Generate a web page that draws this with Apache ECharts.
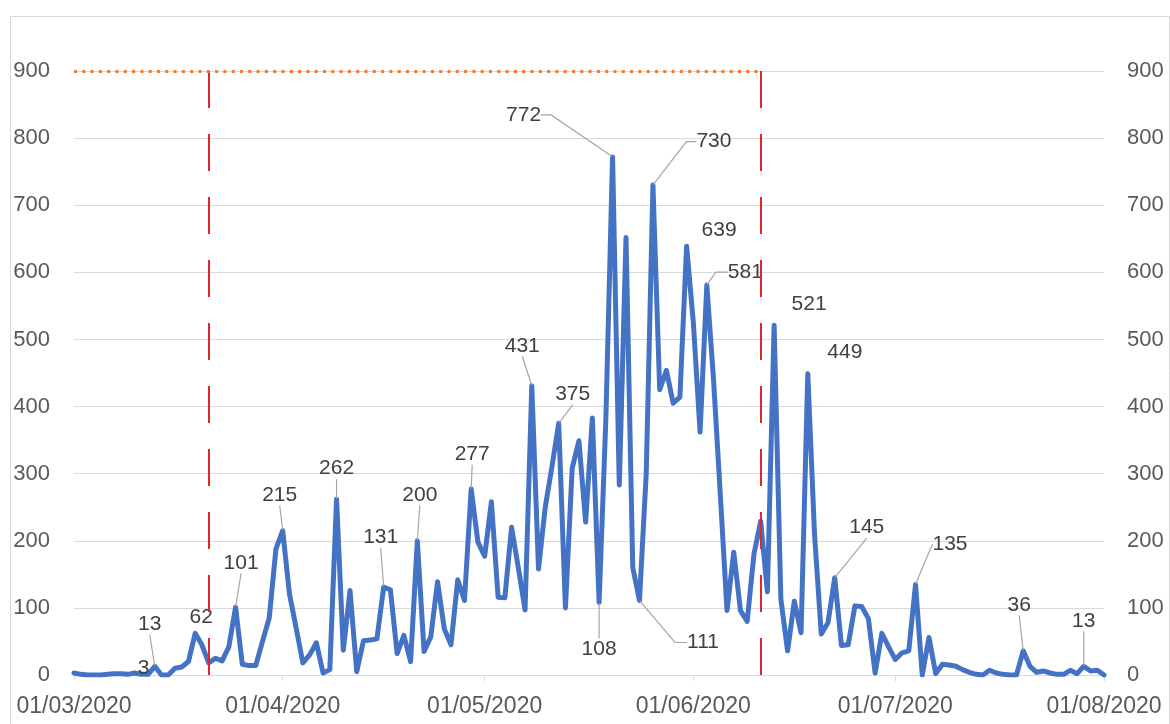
<!DOCTYPE html>
<html>
<head>
<meta charset="utf-8">
<script src="https://cdn.jsdelivr.net/npm/echarts@6/dist/echarts.min.js"></script>
<style>
  html, body { margin: 0; padding: 0; background: #ffffff; }
  #chart { width: 1170px; height: 724px; }
</style>
</head>
<body>
<div id="chart"></div>
<script>
// Daily counts, one array per month (1 March – 1 August 2020)
const marchValues = [3, 1, 0, 0, 0, 1, 2, 2, 1, 3, 1, 1, 13, 0, 0, 10, 12, 20, 62, 45, 18, 25, 21, 42, 101, 16, 14, 14, 50, 85, 188];
const aprilValues = [215, 121, 70, 18, 30, 48, 3, 8, 262, 37, 126, 5, 51, 52, 54, 131, 127, 32, 59, 20, 200, 35, 57, 139, 69, 45, 142, 111, 277, 198];
const mayValues = [177, 258, 116, 115, 220, 160, 97, 431, 158, 250, 311, 375, 100, 308, 349, 228, 383, 108, 380, 772, 283, 652, 160, 111, 300, 730, 425, 454, 405, 414, 639];
const juneValues = [525, 362, 581, 440, 270, 96, 183, 96, 80, 180, 229, 124, 521, 113, 36, 110, 63, 449, 210, 61, 78, 145, 44, 45, 103, 102, 84, 3, 62, 42];
const julyValues = [23, 33, 36, 135, 0, 56, 2, 16, 15, 13, 8, 4, 1, 0, 7, 3, 1, 0, 0, 36, 13, 4, 6, 3, 1, 1, 7, 2, 13, 6, 7];
const augustValues = [0];

const months = [
  { month: '03', values: marchValues },
  { month: '04', values: aprilValues },
  { month: '05', values: mayValues },
  { month: '06', values: juneValues },
  { month: '07', values: julyValues },
  { month: '08', values: augustValues }
];

// Axis tick labels and reference markers
const tickLabels = ['01/03/2020', '01/04/2020', '01/05/2020', '01/06/2020', '01/07/2020', '01/08/2020'];
const yTicks = [0, 100, 200, 300, 400, 500, 600, 700, 800, 900];
const periodStart = '21/03/2020';
const periodEnd = '11/06/2020';
const thresholdValue = 900;

// Days whose value is written next to the line
const labelledDays = [
  '10/03/2020', '13/03/2020', '19/03/2020', '25/03/2020', '01/04/2020', '09/04/2020',
  '16/04/2020', '21/04/2020', '29/04/2020', '08/05/2020', '12/05/2020', '18/05/2020',
  '20/05/2020', '24/05/2020', '26/05/2020', '31/05/2020', '03/06/2020', '13/06/2020',
  '18/06/2020', '22/06/2020', '04/07/2020', '20/07/2020', '29/07/2020'
];

// Label placement: [dx, dy] of the text centre from its point, leader (null = none, number = horizontal run),
// and an optional padding box that steers where the leader attaches
const labelPlacement = {
  '10/03/2020': [9, -5, null],
  '13/03/2020': [-5, -42, 0],
  '19/03/2020': [6, -16, null],
  '25/03/2020': [5.5, -44, 0],
  '01/04/2020': [-3, -36, 0],
  '09/04/2020': [0, -30.5, 0],
  '16/04/2020': [-3, -49.5, 0],
  '21/04/2020': [2.5, -46, 0],
  '29/04/2020': [1, -35, 0],
  '08/05/2020': [-9.5, -40, 0],
  '12/05/2020': [14, -29, 0],
  '18/05/2020': [0, 46.5, 0],
  '20/05/2020': [-89, -42, 10],
  '24/05/2020': [63.5, 42, 12],
  '26/05/2020': [61, -43.5, 10],
  '31/05/2020': [32.5, -15.5, null],
  '03/06/2020': [38.5, -13, 12],
  '13/06/2020': [35, -21, null],
  '18/06/2020': [37, -21.5, null],
  '22/06/2020': [32, -50, 0, [3, 3, 10, 3]],
  '04/07/2020': [34.5, -40.5, 0, [3, 3, 10, 3]],
  '20/07/2020': [-4, -46, 0],
  '29/07/2020': [0, -45.5, 0]
};

const dates = [];
const values = [];
months.forEach(function (m) {
  m.values.forEach(function (v, i) {
    const day = String(i + 1).padStart(2, '0');
    dates.push(day + '/' + m.month + '/2020');
    values.push(v);
  });
});

const FONT = '"Liberation Sans", Arial, sans-serif';
const LINE_BLUE = '#4472C4';

const seriesData = values.map(function (v, i) {
  const date = dates[i];
  if (labelledDays.indexOf(date) < 0) return v;
  const p = labelPlacement[date];
  const item = {
    value: v,
    label: {
      show: true,
      position: [p[0] + 0.5, p[1] + 0.5],
      align: 'center',
      verticalAlign: 'middle',
      padding: p[3] || [3, 3, 3, 3]
    }
  };
  if (p[2] === null) {
    item.labelLine = { show: false };
  } else {
    item.labelLine = { show: true, length2: p[2] };
  }
  return item;
});

const chart = echarts.init(document.getElementById('chart'), null, { renderer: 'canvas' });

const isTick = function (index, value) { return tickLabels.indexOf(value) >= 0; };

chart.setOption({
  animation: false,
  backgroundColor: '#ffffff',
  graphic: [{
    type: 'rect',
    left: 8, top: 14,
    shape: { width: 1159, height: 720 },
    style: { fill: 'none', stroke: '#D9D9D9', lineWidth: 1 },
    silent: true
  }],
  grid: { left: 74, right: 66, top: 71, bottom: 49, containLabel: false },
  xAxis: {
    type: 'category',
    data: dates,
    boundaryGap: false,
    axisLine: { show: true, lineStyle: { color: '#D9D9D9', width: 1 } },
    axisTick: { show: true, interval: isTick, length: 6, lineStyle: { color: '#D9D9D9', width: 1 } },
    axisLabel: {
      interval: isTick,
      showMinLabel: true,
      showMaxLabel: true,
      margin: 20,
      color: '#595959',
      fontSize: 23,
      fontFamily: FONT
    },
    splitLine: { show: false }
  },
  yAxis: [{
    type: 'value',
    min: yTicks[0],
    max: yTicks[yTicks.length - 1],
    interval: 100,
    position: 'left',
    axisLine: { show: false },
    axisTick: { show: false },
    axisLabel: { margin: 24, color: '#595959', fontSize: 22, fontFamily: FONT },
    splitLine: { show: true, lineStyle: { color: '#D9D9D9', width: 1 } }
  }, {
    type: 'value',
    min: yTicks[0],
    max: yTicks[yTicks.length - 1],
    interval: 100,
    position: 'right',
    axisLine: { show: false },
    axisTick: { show: false },
    axisLabel: { margin: 23, color: '#595959', fontSize: 22, fontFamily: FONT },
    splitLine: { show: false }
  }],
  series: [{
    type: 'line',
    data: seriesData,
    yAxisIndex: 0,
    showSymbol: true,
    showAllSymbol: true,
    symbol: 'circle',
    symbolSize: 1,
    itemStyle: { color: LINE_BLUE },
    lineStyle: { color: LINE_BLUE, width: 5, join: 'round', cap: 'round' },
    label: {
      show: false,
      color: '#404040',
      fontSize: 21,
      fontFamily: FONT
    },
    labelLine: {
      show: false,
      smooth: false,
      minTurnAngle: 0,
      lineStyle: { color: '#A6A6A6', width: 1.2 }
    },
    emphasis: { disabled: true },
    markLine: {
      silent: true,
      symbol: ['none', 'none'],
      label: { show: false },
      data: [
        [
          { coord: [periodStart, thresholdValue], lineStyle: { color: '#E3262B', width: 2, type: [37, 26] } },
          { coord: [periodStart, 0] }
        ],
        [
          { coord: [periodEnd, thresholdValue], lineStyle: { color: '#E3262B', width: 2, type: [37, 26] } },
          { coord: [periodEnd, 0] }
        ],
        [
          { coord: [dates[0], thresholdValue], lineStyle: { color: '#ED7D31', width: 3, type: [3, 5.3] } },
          { coord: [periodEnd, thresholdValue] }
        ]
      ]
    }
  }]
});
</script>
</body>
</html>
